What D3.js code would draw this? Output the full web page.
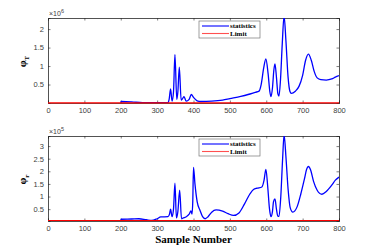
<!DOCTYPE html>
<html>
<head>
<meta charset="utf-8">
<script src="https://cdn.jsdelivr.net/npm/d3@7"></script>
<style>
  body { margin: 0; background: #fff; }
  .tick text { font-family: "Liberation Sans", Arial, sans-serif; font-size: 7.5px; fill: #404040; }
</style>
</head>
<body>
<div id="chart"></div>
<script>
// x ticks shared by both panels
var xTicks = [0, 100, 200, 300, 400, 500, 600, 700, 800];

// top panel: phi_T statistic (x 10^6)
var topSamples = [200, 201, 230, 260, 330, 333, 337, 341, 345, 349, 354, 357, 361, 366, 370, 374, 380, 388, 394, 400,
  410, 420, 450, 480, 500, 530, 550, 570, 580, 586, 593, 599, 605, 610, 613, 617, 621, 624, 628, 632, 635, 639, 644,
  649, 654, 660, 665, 669, 680, 690, 700, 708, 716, 724, 732, 740, 750, 765, 780, 790, 800];
var topValues = [0.005, 0.04, 0.03, 0.01, 0.01, 0.1, 0.38, 0.05, 0.3, 1.31, 0.1, 0.3, 0.97, 0.08, 0.12, 0.17, 0.05, 0.1, 0.23, 0.15,
  0.06, 0.04, 0.05, 0.08, 0.12, 0.18, 0.23, 0.29, 0.32, 0.5, 0.95, 1.19, 0.8, 0.3, 0.17, 0.4, 0.9, 1.06, 0.7, 0.25, 0.19, 0.6, 1.6,
  2.36, 1.7, 0.7, 0.32, 0.26, 0.32, 0.45, 0.75, 1.15, 1.32, 1.15, 0.85, 0.68, 0.63, 0.62, 0.65, 0.7, 0.74];
var topTicks = [0.5, 1, 1.5, 2];

// bottom panel: phi_r statistic (x 10^5)
var botSamples = [200, 201, 230, 250, 270, 285, 300, 310, 330, 334, 337, 341, 345, 349, 353, 357, 362, 367, 372, 380,
  388, 393, 396, 398, 400, 404, 410, 418, 425, 432, 440, 450, 462, 480, 495, 510, 525, 540, 555, 565, 575, 588, 594,
  599, 604, 609, 613, 617, 620, 624, 628, 632, 635, 640, 645, 649, 654, 660, 666, 673, 685, 695, 705, 711, 716, 722,
  730, 740, 753, 765, 780, 790, 800];
var botValues = [0.02, 0.1, 0.11, 0.12, 0.08, 0.05, 0.12, 0.19, 0.2, 0.3, 0.5, 0.2, 0.5, 1.53, 0.15, 0.4, 1.25, 0.12, 0.15, 0.2,
  0.3, 0.43, 0.3, 0.8, 2.16, 1.5, 0.8, 0.45, 0.2, 0.12, 0.2, 0.38, 0.47, 0.42, 0.32, 0.25, 0.35, 0.7, 1.1, 1.28, 1.33, 1.38, 1.65,
  2.08, 1.4, 0.5, 0.2, 0.4, 0.8, 0.91, 0.5, 0.22, 0.21, 1.0, 2.5, 3.45, 2.6, 1.3, 0.55, 0.38, 0.6, 1.1, 1.7, 2.08, 2.19, 2.05,
  1.6, 1.25, 1.09, 1.2, 1.45, 1.65, 1.77];
var botTicks = [0.5, 1, 1.5, 2, 2.5, 3];

// control limits (near zero on this scale)
var topLimit = 0.003;
var botLimit = 0.05;

var W = 374, H = 249;
var left = 48, right = 339;

var svg = d3.select("#chart").append("svg")
    .attr("width", W)
    .attr("height", H);

function panel(opt) {
  var x = d3.scaleLinear().domain([0, 800]).range([left, right]);
  var y = d3.scaleLinear().domain(opt.domain).range([opt.bottom, opt.top]);

  var g = svg.append("g");
  var clipId = "clip" + opt.id;
  g.append("clipPath").attr("id", clipId)
    .append("rect")
      .attr("x", left).attr("y", opt.top)
      .attr("width", right - left).attr("height", opt.bottom - opt.top);

  // axes (MATLAB style: inward ticks on all four sides)
  g.append("g")
      .attr("transform", "translate(0," + opt.bottom + ")")
      .call(d3.axisBottom(x).tickValues(xTicks).tickSize(-2.5).tickPadding(5).tickFormat(d3.format("d")));
  g.append("g")
      .attr("transform", "translate(0," + opt.top + ")")
      .call(d3.axisTop(x).tickValues(xTicks).tickSize(-2.5).tickFormat(""));
  g.append("g")
      .attr("transform", "translate(" + left + ",0)")
      .call(d3.axisLeft(y).tickValues(opt.ticks).tickSize(-2.5).tickPadding(4).tickFormat(d3.format("")));
  g.append("g")
      .attr("transform", "translate(" + right + ",0)")
      .call(d3.axisRight(y).tickValues(opt.ticks).tickSize(-2.5).tickFormat(""));
  g.selectAll(".domain").attr("stroke", "#262626").attr("stroke-width", 0.8);
  g.selectAll(".tick line").attr("stroke", "#262626").attr("stroke-width", 0.6);

  var line = d3.line()
      .x(function(d) { return x(d[0]); })
      .y(function(d) { return y(d[1]); })
      .curve(d3.curveMonotoneX);

  var pts = opt.samples.map(function(s, i) { return [s, opt.values[i]]; });
  g.append("path")
      .datum(pts)
      .attr("clip-path", "url(#" + clipId + ")")
      .attr("fill", "none")
      .attr("stroke", "#0000ff")
      .attr("stroke-width", 1.3)
      .attr("d", line);

  g.append("path")
      .datum([[0, opt.limit], [800, opt.limit]])
      .attr("fill", "none")
      .attr("stroke", "#ff0000")
      .attr("stroke-width", 1.2)
      .attr("d", line);

  // exponent
  var ex = g.append("text")
      .attr("x", left + 1)
      .attr("y", opt.top - 2)
      .attr("font-family", "Liberation Sans, Arial, sans-serif")
      .attr("font-size", 7)
      .attr("fill", "#404040");
  ex.append("tspan").text("\u00d710");
  ex.append("tspan").attr("dy", -3).attr("font-size", 5.5).text(opt.exp);

  // y label
  var yl = g.append("text")
      .attr("transform", "translate(" + 26 + "," + ((opt.top + opt.bottom) / 2 + 1) + ") rotate(-90)")
      .attr("text-anchor", "middle")
      .attr("font-family", "Liberation Serif, Times New Roman, serif")
      .attr("font-weight", "bold")
      .attr("font-size", 11)
      .attr("fill", "#000");
  yl.append("tspan").text("\u03c6");
  yl.append("tspan").attr("dy", 3).attr("font-size", 7).text(opt.sub);

  // legend
  var lg = g.append("g").attr("transform", "translate(199," + (opt.top + 3) + ")");
  lg.append("rect")
      .attr("width", 61).attr("height", 17)
      .attr("fill", "#fff").attr("stroke", "#777").attr("stroke-width", 0.7);
  var items = [["statistics", "#0000ff"], ["Limit", "#ff5050"]];
  items.forEach(function(it, i) {
    var yy = 5 + i * 7.5;
    lg.append("line")
        .attr("x1", 3).attr("x2", 30).attr("y1", yy).attr("y2", yy)
        .attr("stroke", it[1]).attr("stroke-width", 1.1);
    lg.append("text")
        .attr("x", 31).attr("y", yy + 2.3)
        .attr("font-family", "Liberation Serif, Times New Roman, serif")
        .attr("font-weight", "bold")
        .attr("font-size", 7)
        .text(it[0]);
  });
}

panel({ id: 1, top: 18, bottom: 103, domain: [0, 2.3], ticks: topTicks,
        samples: topSamples, values: topValues, limit: topLimit, exp: "6", sub: "T" });
panel({ id: 2, top: 136, bottom: 221, domain: [0.03, 3.4], ticks: botTicks,
        samples: botSamples, values: botValues, limit: botLimit, exp: "5", sub: "r" });

svg.append("text")
    .attr("x", (left + right) / 2)
    .attr("y", 243)
    .attr("text-anchor", "middle")
    .attr("font-family", "Liberation Serif, Times New Roman, serif")
    .attr("font-weight", "bold")
    .attr("font-size", 11)
    .text("Sample Number");
</script>
</body>
</html>
